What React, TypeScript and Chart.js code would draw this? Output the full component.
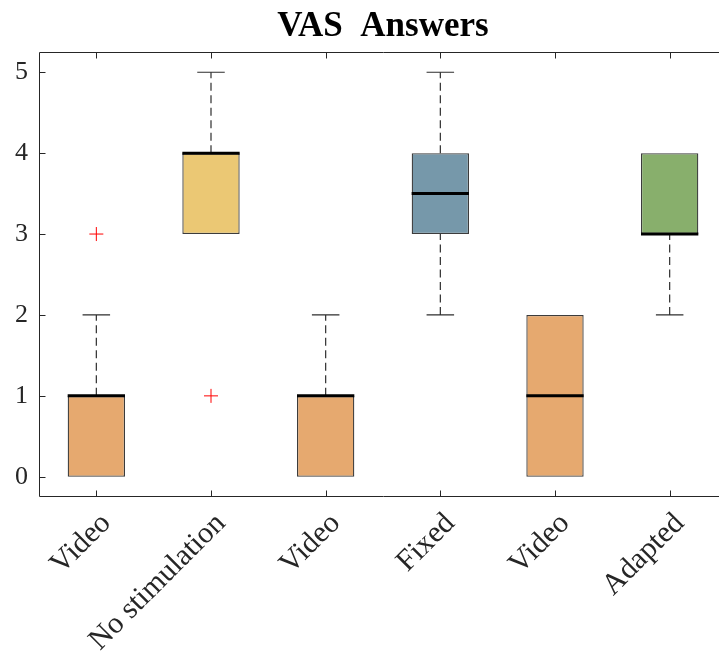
import React, { useEffect, useRef } from 'react';
import { Chart, registerables } from 'chart.js';

Chart.register(...registerables);

// ---- data ----
const categories = ['Video', 'No stimulation', 'Video', 'Fixed', 'Video', 'Adapted'];
const q1 = [0, 3, 0, 3, 0, 3];
const q3 = [1, 4, 1, 4, 2, 4];
const medians = [1, 4, 1, 3.5, 1, 3];
const whiskerLow = [0, 3, 0, 2, 0, 2];
const whiskerHigh = [2, 5, 2, 5, 2, 4];
const outlierGroups = [1, 2];
const outlierValues = [3, 1];
const yTickValues = [0, 1, 2, 3, 4, 5];

// ---- styles ----
const boxColors = ['#E6A96F', '#EBC874', '#E6A96F', '#7698AA', '#E6A96F', '#88AF6C'];
const FONT = '"Liberation Serif", "Times New Roman", serif';
const AXIS_COLOR = '#262626';
const BOX_HALF = 0.25;
const CAP_HALF = 0.12;
const CANVAS_W = 800;
const PLOT_RIGHT = 727;

const framePlugin = {
  id: 'matlabFrame',
  afterDatasetsDraw(chart: any) {
    const { ctx, chartArea, scales } = chart;
    const { left, right, top, bottom } = chartArea;
    const xs = scales.x;
    const ys = scales.y;
    ctx.save();
    ctx.strokeStyle = AXIS_COLOR;
    ctx.lineWidth = 1;
    ctx.beginPath();
    const L = Math.round(left) + 0.5;
    const R = Math.round(right) + 0.5;
    const T = Math.round(top) + 0.5;
    const B = Math.round(bottom) - 0.5;
    ctx.moveTo(R, T);
    ctx.lineTo(L, T);
    ctx.lineTo(L, B);
    ctx.lineTo(R, B);
    ctx.lineTo(R, T);
    const tl = 6;
    xs.ticks.forEach((t: any) => {
      const px = Math.round(xs.getPixelForValue(t.value)) + 0.5;
      ctx.moveTo(px, B);
      ctx.lineTo(px, B - tl);
      ctx.moveTo(px, T);
      ctx.lineTo(px, T + tl);
    });
    ys.ticks.forEach((t: any) => {
      const py = Math.round(ys.getPixelForValue(t.value)) + 0.5;
      ctx.moveTo(L, py);
      ctx.lineTo(L + tl, py);
      ctx.moveTo(R, py);
      ctx.lineTo(R - tl, py);
    });
    ctx.stroke();
    ctx.restore();
  },
};

export default function App() {
  const canvasRef = useRef<HTMLCanvasElement | null>(null);

  useEffect(() => {
    const canvas = canvasRef.current;
    if (!canvas) return;

    const boxData = categories.map((_, i) => ({ x: i + 1, y: [q1[i], q3[i]] }));

    const whiskerData: any[] = [];
    const capData: any[] = [];
    categories.forEach((_, i) => {
      const x = i + 1;
      if (whiskerHigh[i] > q3[i]) {
        whiskerData.push({ x, y: q3[i] }, { x, y: whiskerHigh[i] }, { x, y: null });
        capData.push({ x: x - CAP_HALF, y: whiskerHigh[i] }, { x: x + CAP_HALF, y: whiskerHigh[i] }, { x, y: null });
      }
      if (whiskerLow[i] < q1[i]) {
        whiskerData.push({ x, y: whiskerLow[i] }, { x, y: q1[i] }, { x, y: null });
        capData.push({ x: x - CAP_HALF, y: whiskerLow[i] }, { x: x + CAP_HALF, y: whiskerLow[i] }, { x, y: null });
      }
    });

    const medianData: any[] = [];
    categories.forEach((_, i) => {
      const x = i + 1;
      medianData.push({ x: x - BOX_HALF, y: medians[i] }, { x: x + BOX_HALF, y: medians[i] }, { x, y: null });
    });

    const outlierData = outlierGroups.map((g, k) => ({ x: g, y: outlierValues[k] }));

    const chart = new Chart(canvas, {
      type: 'bar',
      data: {
        datasets: [
          {
            type: 'bar',
            label: 'boxes',
            data: boxData as any,
            backgroundColor: boxColors,
            borderColor: '#3c3c3c',
            borderWidth: 1.3,
            borderSkipped: false,
            barPercentage: 0.5,
            categoryPercentage: 1,
            order: 3,
          } as any,
          {
            type: 'line',
            label: 'whiskers',
            data: whiskerData,
            borderColor: '#2e2e2e',
            borderWidth: 1.2,
            borderDash: [8, 4.5],
            pointRadius: 0,
            fill: false,
            spanGaps: false,
            order: 2,
          } as any,
          {
            type: 'line',
            label: 'caps',
            data: capData,
            borderColor: '#2e2e2e',
            borderWidth: 1.2,
            pointRadius: 0,
            fill: false,
            spanGaps: false,
            order: 2,
          } as any,
          {
            type: 'line',
            label: 'medians',
            data: medianData,
            borderColor: '#000000',
            borderWidth: 3,
            pointRadius: 0,
            fill: false,
            spanGaps: false,
            order: 1,
          } as any,
          {
            type: 'scatter',
            label: 'outliers',
            data: outlierData,
            pointStyle: 'cross',
            pointRadius: 7,
            borderColor: '#ff0000',
            backgroundColor: '#ff0000',
            borderWidth: 1,
            order: 0,
          } as any,
        ],
      },
      options: {
        responsive: false,
        animation: false,
        devicePixelRatio: 1,
        events: [],
        layout: { padding: { left: 0, top: 0, right: CANVAS_W - PLOT_RIGHT, bottom: 0 } },
        plugins: {
          legend: { display: false },
          tooltip: { enabled: false },
          title: {
            display: true,
            text: 'VAS  Answers',
            fullSize: false,
            color: '#000000',
            font: { family: FONT, size: 35, weight: 'bold', lineHeight: 1.2 },
            padding: { top: 6, bottom: 4 },
          },
        },
        scales: {
          x: {
            type: 'linear',
            min: 0.5,
            max: 6.5,
            offset: false,
            grid: { display: false, drawTicks: false, offset: false },
            border: { display: false },
            afterBuildTicks: (scale: any) => {
              scale.ticks = categories.map((_, i) => ({ value: i + 1 }));
            },
            afterFit: (scale: any) => {
              scale.height = 163;
            },
            ticks: {
              autoSkip: false,
              minRotation: 45,
              maxRotation: 45,
              padding: 9,
              labelOffset: 10,
              color: AXIS_COLOR,
              font: { family: FONT, size: 30 },
              callback: (value: any) => categories[Math.round(Number(value)) - 1] ?? '',
            },
          },
          y: {
            type: 'linear',
            min: -0.25,
            max: 5.25,
            grid: { display: false, drawTicks: false },
            border: { display: false },
            afterBuildTicks: (scale: any) => {
              scale.ticks = yTickValues.map((v) => ({ value: v }));
            },
            afterFit: (scale: any) => {
              scale.width = 39;
            },
            ticks: {
              padding: 11,
              color: AXIS_COLOR,
              font: { family: FONT, size: 26 },
              callback: (value: any) => String(value),
            },
          },
        },
      } as any,
      plugins: [framePlugin],
    });

    return () => chart.destroy();
  }, []);

  return (
    <div
      style={{
        position: 'absolute',
        left: 0,
        top: 0,
        width: 719,
        height: 660,
        overflow: 'hidden',
        background: '#ffffff',
      }}
    >
      <canvas ref={canvasRef} width={CANVAS_W} height={660} style={{ display: 'block' }} />
    </div>
  );
}
